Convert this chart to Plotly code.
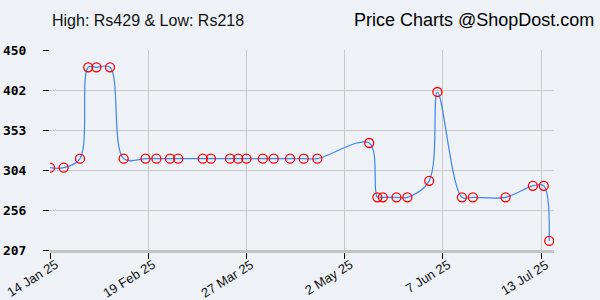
import plotly.graph_objects as go

dates = ["2025-01-14", "2025-01-19", "2025-01-25", "2025-01-28", "2025-01-31", "2025-02-05",
         "2025-02-10", "2025-02-18", "2025-02-22", "2025-02-27", "2025-03-02", "2025-03-11",
         "2025-03-14", "2025-03-21", "2025-03-24", "2025-03-27", "2025-04-02", "2025-04-06",
         "2025-04-12", "2025-04-17", "2025-04-22", "2025-05-11", "2025-05-14", "2025-05-16",
         "2025-05-21", "2025-05-25", "2025-06-02", "2025-06-05", "2025-06-14", "2025-06-18",
         "2025-06-30", "2025-07-10", "2025-07-14", "2025-07-16"]
prices = [307, 307, 318, 429, 429, 429,
          318, 318, 318, 318, 318, 318,
          318, 318, 318, 318, 318, 318,
          318, 318, 318, 337, 271, 271,
          271, 271, 291, 399, 271, 271,
          271, 285, 285, 218]

x_tick_vals = ["2025-01-14", "2025-02-19", "2025-03-27", "2025-05-02", "2025-06-07", "2025-07-13"]
x_tick_text = ["14 Jan 25", "19 Feb 25", "27 Mar 25", "2 May 25", "7 Jun 25", "13 Jul 25"]
y_tick_vals = [207, 255.6, 304.2, 352.8, 401.4, 450]
y_tick_text = ["207", "256", "304", "353", "402", "450"]

fig = go.Figure()
fig.add_trace(go.Scatter(
    x=dates, y=prices, mode="lines+markers",
    line=dict(color="#3f86f0", width=1.2, shape="spline", smoothing=1.0),
    marker=dict(symbol="circle-open", size=9, color="#ff0000", line=dict(width=1.3, color="#ff0000")),
    hoverinfo="x+y", showlegend=False,
))

bg = "#eef2f6"
L, R, T, B = 50, 46, 50, 50
fig.update_layout(
    width=600, height=300,
    margin=dict(l=L, r=R, t=T, b=B, autoexpand=False),
    paper_bgcolor=bg, plot_bgcolor=bg,
    font=dict(family="Liberation Sans, Arial, sans-serif", color="#111"),
    xaxis=dict(
        type="date", range=["2025-01-14", "2025-07-17 18:00"],
        tickvals=x_tick_vals, ticktext=x_tick_text, showticklabels=False,
        showgrid=True, gridcolor="#c8c8c8", gridwidth=1,
        ticks="outside", ticklen=6, tickcolor="#000", tickwidth=1,
        showline=True, linecolor="#c4c4c4", linewidth=3,
        zeroline=False, fixedrange=True, automargin=False,
    ),
    yaxis=dict(
        range=[207, 450],
        tickvals=y_tick_vals, ticktext=y_tick_text,
        showgrid=True, gridcolor="#c8c8c8", gridwidth=1,
        ticks="outside", ticklen=6, tickcolor="#000", tickwidth=1,
        showline=False, zeroline=False,
        ticklabelstandoff=14,
        tickfont=dict(size=13, family="DejaVu Sans Mono, monospace", color="#000", weight="bold"),
        fixedrange=True, automargin=False,
    ),
)

# rotated x tick labels, anchored to the axis ticks
for tv, tt in zip(x_tick_vals, x_tick_text):
    fig.add_annotation(text=tt, x=tv, y=0, xref="x", yref="paper",
                       xanchor="right", yanchor="top", xshift=13, yshift=-4,
                       textangle=-32, showarrow=False,
                       font=dict(size=13, family="Liberation Sans, Arial, sans-serif", color="#111"))

pw = 600 - L - R
ph = 300 - T - B
fig.add_annotation(text="High: Rs429 & Low: Rs218", x=(50 - L) / pw, y=(300 - B - 20) / ph,
                   xref="paper", yref="paper", xanchor="left", yanchor="middle", showarrow=False,
                   font=dict(size=16, family="Liberation Sans, Arial, sans-serif", color="#111"))
fig.add_annotation(text="Price Charts @ShopDost.com", x=(596 - L) / pw, y=(300 - B - 20) / ph,
                   xref="paper", yref="paper", xanchor="right", yanchor="middle", showarrow=False,
                   font=dict(size=18, family="Liberation Sans, Arial, sans-serif", color="#000"))

fig.write_html("out.html")
